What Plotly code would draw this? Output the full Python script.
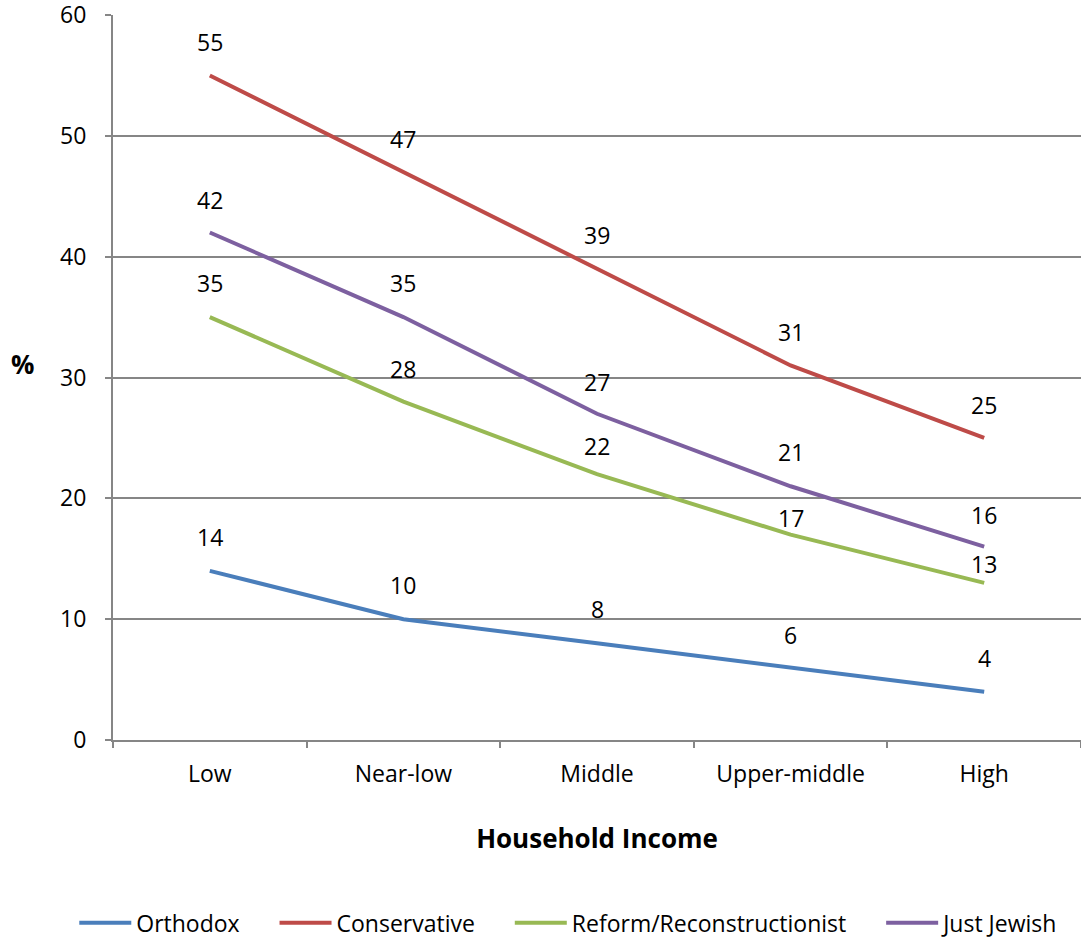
import plotly.graph_objects as go

categories = ["Low", "Near-low", "Middle", "Upper-middle", "High"]
orthodox = [14, 10, 8, 6, 4]
conservative = [55, 47, 39, 31, 25]
reform = [35, 28, 22, 17, 13]
just_jewish = [42, 35, 27, 21, 16]

# vertical offset (px) of each data label above its point
label_shift = {
    "Orthodox": [34, 34, 34, 33, 34],
    "Conservative": [33, 33, 34, 33, 33],
    "Reform/Reconstructionist": [34, 33, 28, 17, 19],
    "Just Jewish": [33, 34, 32, 34, 32],
}

series = [
    ("Orthodox", orthodox, "#4A7EBB"),
    ("Conservative", conservative, "#BE4B48"),
    ("Reform/Reconstructionist", reform, "#98B954"),
    ("Just Jewish", just_jewish, "#7D60A0"),
]

FONT = "Open Sans"
FS = 23
PAD = "&nbsp;" * 5
fig = go.Figure()
annotations = []
for i, (name, vals, color) in enumerate(series):
    fig.add_trace(go.Scatter(
        x=categories, y=vals, name=name + (PAD if i < len(series) - 1 else ""),
        mode="lines", line=dict(color=color, width=4),
    ))
    for c, v, s in zip(categories, vals, label_shift[name]):
        annotations.append(dict(
            x=c, y=v, text=str(v), showarrow=False, yshift=s,
            font=dict(family=FONT, size=FS, color="#000000"),
        ))

annotations.append(dict(
    xref="paper", yref="paper", x=-0.094, xanchor="center", y=0.518, text="<b>%</b>",
    showarrow=False, font=dict(family=FONT, size=26, color="#000000"),
))

fig.update_layout(
    width=1081, height=939,
    margin=dict(l=113, r=0, t=15, b=199, autoexpand=False),
    paper_bgcolor="white", plot_bgcolor="white",
    font=dict(family=FONT, size=FS, color="#000000"),
    showlegend=True,
    legend=dict(orientation="h", x=-0.04, xanchor="left", y=-0.252, yanchor="middle",
                font=dict(family=FONT, size=FS), itemwidth=52, tracegroupgap=0),
    annotations=annotations,
    xaxis=dict(
        type="category", range=[-0.5, 4.5],
        showline=True, linecolor="#868686", linewidth=2,
        ticks="outside", ticklen=6, tickcolor="#868686", tickwidth=2,
        tickson="boundaries", showgrid=False, ticklabelstandoff=12,
        tickfont=dict(family=FONT, size=FS), automargin=False,
        title=dict(text="<b>Household Income</b>", font=dict(family=FONT, size=26), standoff=42),
    ),
    yaxis=dict(
        range=[0, 60], tickvals=[0, 10, 20, 30, 40, 50, 60],
        showline=True, linecolor="#868686", linewidth=2,
        ticks="outside", ticklen=6, tickcolor="#868686", tickwidth=2,
        showgrid=True, gridcolor="#868686", gridwidth=1.5,
        zeroline=False, ticklabelstandoff=14, automargin=False,
        ticklabeloverflow="allow",
        tickfont=dict(family=FONT, size=FS),
    ),
)

fig.write_html("out.html", config={"displayModeBar": False},
               post_script="document.body.style.margin='0';")
